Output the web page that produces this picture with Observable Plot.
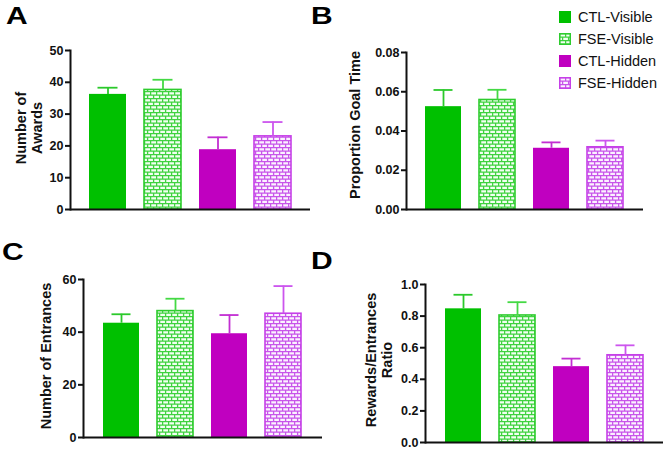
<!DOCTYPE html>
<html>
<head>
<meta charset="utf-8">
<script src="https://cdn.jsdelivr.net/npm/d3@7"></script>
<script src="https://cdn.jsdelivr.net/npm/@observablehq/plot@0.6"></script>
<style>
  html, body { margin: 0; padding: 0; background: #fff; }
  body { font-family: "Liberation Sans", Arial, Helvetica, sans-serif; color: #111; }
  #wrap { position: relative; width: 667px; height: 450px; overflow: hidden; background: #fff; }
  .panel { position: absolute; }
  .letter { position: absolute; font-weight: bold; font-size: 24px; line-height: 1; transform: scaleX(1.25); transform-origin: left top; color: #000; }
  .ytitle { position: absolute; font-weight: bold; font-size: 14.5px; line-height: 16px; text-align: center; white-space: nowrap;
            transform: translate(-50%, -50%) rotate(-90deg); color: #111; }
  .leg { position: absolute; left: 559px; font-size: 14.5px; line-height: 16px; white-space: nowrap; color: #111; }
  .leg svg { position: absolute; left: 0; top: 2px; }
  .leg span { position: absolute; left: 19px; top: 0; }
</style>
</head>
<body>
<svg width="0" height="0" style="position:absolute">
  <defs>
    <pattern id="brickG" width="6" height="7" patternUnits="userSpaceOnUse">
      <rect width="6" height="7" fill="#f2fff2"/>
      <path d="M0 0.6H6M0 4.1H6M0.6 0V3.5M3.6 3.5V7" stroke="#3fd23f" stroke-width="1.3" fill="none"/>
    </pattern>
    <pattern id="brickV" width="6" height="7" patternUnits="userSpaceOnUse">
      <rect width="6" height="7" fill="#fbf2ff"/>
      <path d="M0 0.6H6M0 4.1H6M0.6 0V3.5M3.6 3.5V7" stroke="#c855ea" stroke-width="1.3" fill="none"/>
    </pattern>
  </defs>
</svg>
<div id="wrap"></div>
<script>
// ---- data ----
const groups = ["CTL-Visible", "FSE-Visible", "CTL-Hidden", "FSE-Hidden"];

const awards = [36.2, 37.6, 18.8, 23.0];
const awardsSem = [2.1, 3.2, 3.9, 4.5];
const awardsTicks = [0, 10, 20, 30, 40, 50];

const goalTime = [0.0524, 0.0558, 0.0312, 0.0317];
const goalTimeSem = [0.0085, 0.0052, 0.0030, 0.0034];
const goalTimeTicks = [0, 0.02, 0.04, 0.06, 0.08];

const entrances = [43.4, 48.0, 39.4, 47.0];
const entrancesSem = [3.4, 4.7, 7.1, 10.5];
const entrancesTicks = [0, 20, 40, 60];

const ratio = [0.846, 0.804, 0.480, 0.552];
const ratioSem = [0.089, 0.084, 0.051, 0.063];
const ratioTicks = [0, 0.2, 0.4, 0.6, 0.8, 1.0];

// ---- styles ----
const fills = ["#00c000", "url(#brickG)", "#c000c0", "url(#brickV)"];
const barStrokes = ["none", "#2ecc2e", "none", "#c640e8"];
const errColors = ["#2bc92b", "#44d944", "#c22ed2", "#cc55ee"];

const wrap = document.getElementById("wrap");

function panel(o) {
  const data = groups.map((g, i) => ({group: g, value: o.values[i], sem: o.sems[i], i}));
  const marks = [];
  data.forEach(d => {
    marks.push(Plot.barY([d], {x: "group", y: "value", fill: fills[d.i], stroke: barStrokes[d.i], strokeWidth: 1.6}));
  });
  data.forEach(d => {
    marks.push(Plot.ruleX([d], {x: "group", y1: "value", y2: v => v.value + v.sem, stroke: errColors[d.i], strokeWidth: 1.8}));
    marks.push(Plot.tickY([d], {x: "group", y: v => v.value + v.sem, stroke: errColors[d.i], strokeWidth: 1.8, insetLeft: 8.5, insetRight: 8.5}));
  });
  marks.push(Plot.axisY({ticks: o.ticks, tickFormat: o.fmt, tickSize: 5, tickPadding: 2, strokeWidth: 2, stroke: "#111", fill: "#111", fontSize: 12.5, fontWeight: "bold", label: null}));
  marks.push(Plot.frame({anchor: "left", strokeWidth: 2, stroke: "#111"}));
  marks.push(Plot.ruleY([0], {strokeWidth: 2, stroke: "#111"}));
  const chart = Plot.plot({
    width: o.width, height: o.height,
    marginLeft: o.ml, marginRight: o.mr, marginTop: o.mt, marginBottom: o.mb,
    x: {domain: groups, paddingInner: 0.327, paddingOuter: 0.345, axis: null},
    y: {domain: [0, o.ticks[o.ticks.length - 1]], axis: null},
    style: {fontFamily: "'Liberation Sans', Arial, sans-serif", fontWeight: "bold", fontSize: "12.5px", background: "transparent", overflow: "visible"},
    marks
  });
  chart.classList.add("panel");
  chart.style.left = o.left + "px";
  chart.style.top = o.top + "px";
  wrap.appendChild(chart);

  const t = document.createElement("div");
  t.className = "ytitle";
  t.innerHTML = o.title;
  t.style.left = o.tx + "px";
  t.style.top = o.ty + "px";
  wrap.appendChild(t);

  const L = document.createElement("div");
  L.className = "letter";
  L.textContent = o.letter;
  L.style.left = o.lx + "px";
  L.style.top = o.ly + "px";
  wrap.appendChild(L);
}

const f2 = d3.format(".2f"), f1 = d3.format(".1f");

panel({left: 0, top: 0, width: 330, height: 225, ml: 70, mr: 20, mt: 50, mb: 16,
  values: awards, sems: awardsSem, ticks: awardsTicks, fmt: d => String(d),
  title: "Number of<br>Awards", tx: 29, ty: 128, letter: "A", lx: 6, ly: 4});

panel({left: 330, top: 0, width: 337, height: 225, ml: 76, mr: 24, mt: 52, mb: 16,
  values: goalTime, sems: goalTimeSem, ticks: goalTimeTicks, fmt: f2,
  title: "Proportion Goal Time", tx: 355, ty: 125, letter: "B", lx: 311, ly: 4});

panel({left: 0, top: 225, width: 330, height: 225, ml: 83, mr: 8, mt: 54, mb: 13,
  values: entrances, sems: entrancesSem, ticks: entrancesTicks, fmt: d => String(d),
  title: "Number of Entrances", tx: 46, ty: 356, letter: "C", lx: 2, ly: 240});

panel({left: 330, top: 225, width: 337, height: 225, ml: 95, mr: 4, mt: 59, mb: 8,
  values: ratio, sems: ratioSem, ticks: ratioTicks, fmt: f1,
  title: "Rewards/Entrances<br>Ratio", tx: 379, ty: 360, letter: "D", lx: 311, ly: 249});

// legend
const legendY = [17, 39, 61, 83];
groups.forEach((g, i) => {
  const row = document.createElement("div");
  row.className = "leg";
  row.style.top = (legendY[i] - 8) + "px";
  const sw = i % 2 === 1
    ? `<svg width="12" height="12"><rect x="0.75" y="0.75" width="10.5" height="10.5" fill="${fills[i]}" stroke="${barStrokes[i]}" stroke-width="1.5"/></svg>`
    : `<svg width="12" height="12"><rect width="12" height="12" fill="${fills[i]}"/></svg>`;
  row.innerHTML = sw + `<span>${g}</span>`;
  wrap.appendChild(row);
});
</script>
</body>
</html>
